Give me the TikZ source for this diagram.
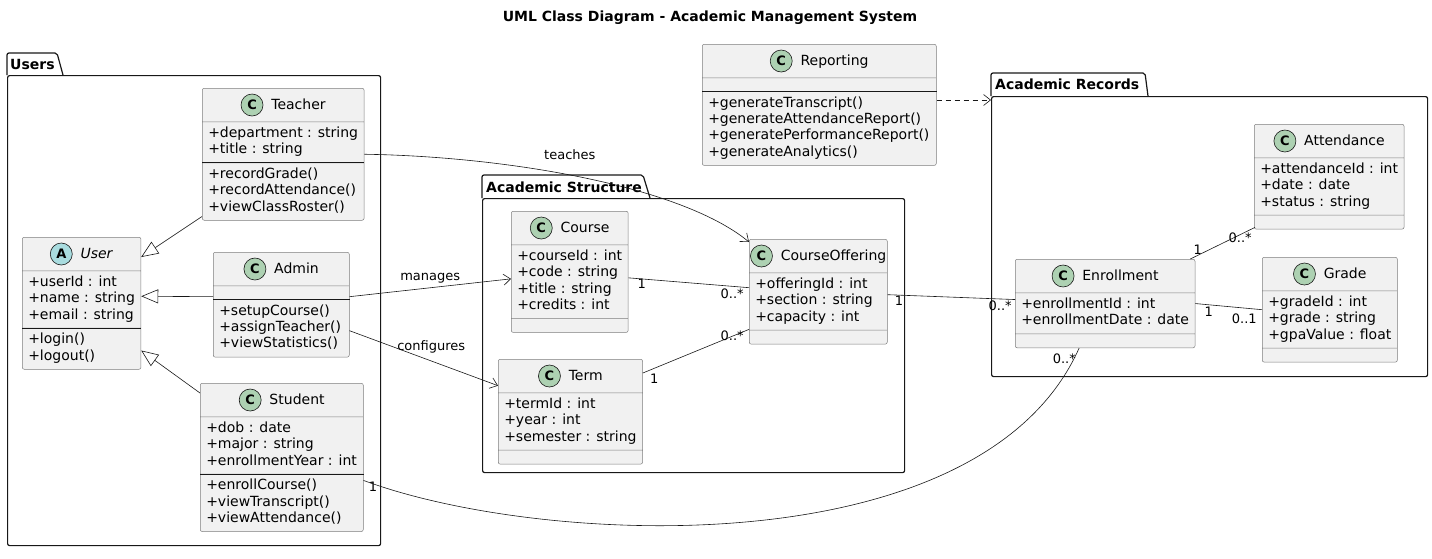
\documentclass[tikz,border=0pt]{standalone}
\usepackage{fontspec}
\setmainfont{DejaVu Sans}
\usepackage{xcolor}
\usepackage{tikz}
\usetikzlibrary{shapes.multipart,arrows.meta,positioning,calc}
\definecolor{classfill}{RGB}{241,241,241}
\definecolor{classline}{RGB}{125,125,125}
\definecolor{spotgreen}{RGB}{173,209,178}
\definecolor{spotblue}{RGB}{169,220,223}
\definecolor{inkblack}{RGB}{24,24,24}
\newcommand{\spot}[2]{\tikz[baseline=-4pt]\node[circle,anchor=center,draw=inkblack,line width=0.6pt,fill=#1,minimum size=22pt,inner sep=0pt,font=\fontsize{13}{13}\selectfont\bfseries]{#2};}
\newcommand{\classhead}[4]{\makebox[\dimexpr #1-12pt\relax][c]{\rule[-8.5pt]{0pt}{25pt}\spot{#2}{#3}\hspace{8pt}#4}}
\newcommand{\members}[1]{\begin{tabular}{@{}l@{}}#1\end{tabular}}

\begin{document}
\begin{tikzpicture}[x=1pt, y=-1pt]
    \tikzstyle{cls} = [rectangle split, rectangle split parts=3, draw=classline, line width=0.5pt, fill=classfill, rounded corners=2pt, inner xsep=6pt, inner ysep=4pt, rectangle split part align={center,left,left}, rectangle split empty part height=0pt, rectangle split empty part depth=0pt, font=\fontsize{14}{16.3}\selectfont, anchor=north west]
    \tikzstyle{pkg} = [draw=inkblack, line width=1.2pt, rounded corners=2pt, inner sep=0pt, anchor=north west]
    \tikzstyle{pkgname} = [font=\fontsize{14}{16}\selectfont\bfseries, anchor=west, inner sep=0pt]
    \tikzstyle{assoc} = [draw=inkblack, line width=0.6pt]
    \tikzstyle{arrow} = [assoc, -{Straight Barb[length=7pt,width=11pt]}]
    \tikzstyle{inherit} = [assoc, -{Triangle[open,length=17pt,width=14pt,fill=white]}]
    \tikzstyle{dep} = [arrow, dash pattern=on 5pt off 4pt]
    \tikzstyle{lbl} = [font=\fontsize{13}{15}\selectfont, inner sep=1pt]

    \useasboundingbox (0,0) rectangle (1432,558);

    % Title
    \node[font=\fontsize{14}{16}\selectfont\bfseries] (title) at (710,18) {UML Class Diagram - Academic Management System};

    % Packages
    \node[pkg, minimum width=373pt, minimum height=470pt] (users) at (7,75) {};
    \draw[pkg] (users.north west) -- ++(0,-22) -- ++(50,0) -- ++(6,22);
    \node[pkgname] (usersname) at (10,64) {Users};

    \node[pkg, minimum width=422pt, minimum height=274pt] (structure) at (482,198) {};
    \draw[pkg] (structure.north west) -- ++(0,-23) -- ++(161,0) -- ++(7,23);
    \node[pkgname] (structurename) at (486,187) {Academic Structure};

    \node[pkg, minimum width=436pt, minimum height=280pt] (records) at (991,96) {};
    \draw[pkg] (records.north west) -- ++(0,-23) -- ++(154,0) -- ++(3,23);
    \node[pkgname] (recordsname) at (995,84) {Academic Records};

    % Users
    \node[cls, minimum width=160pt] (teacher) at (202,88) {\classhead{160pt}{spotgreen}{C}{Teacher}
        \nodepart{two}\members{+department : string\\+title : string}
        \nodepart{three}\members{+recordGrade()\\+recordAttendance()\\+viewClassRoster()}};
    \node[cls, minimum width=117pt] (user) at (22,237) {\classhead{117pt}{spotblue}{A}{\textit{User}}
        \nodepart{two}\members{+userId : int\\+name : string\\+email : string}
        \nodepart{three}\members{+login()\\+logout()}};
    \node[cls, minimum width=136pt] (admin) at (213,252) {\classhead{136pt}{spotgreen}{C}{Admin}
        \nodepart{two}
        \nodepart{three}\members{+setupCourse()\\+assignTeacher()\\+viewStatistics()}};
    \node[cls, minimum width=163pt] (student) at (200,383) {\classhead{163pt}{spotgreen}{C}{Student}
        \nodepart{two}\members{+dob : date\\+major : string\\+enrollmentYear : int}
        \nodepart{three}\members{+enrollCourse()\\+viewTranscript()\\+viewAttendance()}};

    % Academic Structure
    \node[cls, minimum width=115pt] (course) at (511,211) {\classhead{115pt}{spotgreen}{C}{Course}
        \nodepart{two}\members{+courseId : int\\+code : string\\+title : string\\+credits : int}
        \nodepart{three}};
    \node[cls, minimum width=138pt] (offering) at (749,239) {\classhead{138pt}{spotgreen}{C}{CourseOffering}
        \nodepart{two}\members{+offeringId : int\\+section : string\\+capacity : int}
        \nodepart{three}};
    \node[cls, minimum width=142pt] (term) at (498,359) {\classhead{142pt}{spotgreen}{C}{Term}
        \nodepart{two}\members{+termId : int\\+year : int\\+semester : string}
        \nodepart{three}};

    % Reporting
    \node[cls, minimum width=234pt] (reporting) at (702,44) {\classhead{234pt}{spotgreen}{C}{Reporting}
        \nodepart{two}
        \nodepart{three}\members{+generateTranscript()\\+generateAttendanceReport()\\+generatePerformanceReport()\\+generateAnalytics()}};

    % Academic Records
    \node[cls, minimum width=149pt] (attendance) at (1254,124) {\classhead{149pt}{spotgreen}{C}{Attendance}
        \nodepart{two}\members{+attendanceId : int\\+date : date\\+status : string}
        \nodepart{three}};
    \node[cls, minimum width=178pt] (enrollment) at (1015,259) {\classhead{178pt}{spotgreen}{C}{Enrollment}
        \nodepart{two}\members{+enrollmentId : int\\+enrollmentDate : date}
        \nodepart{three}};
    \node[cls, minimum width=135pt] (grade) at (1262,257) {\classhead{135pt}{spotgreen}{C}{Grade}
        \nodepart{two}\members{+gradeId : int\\+grade : string\\+gpaValue : float}
        \nodepart{three}};

    % method separators
    \foreach \c in {teacher,user,admin,student,reporting}
        \draw[inkblack, line width=0.8pt] (\c.two split west) -- (\c.two split east);

    % Inheritance
    \draw[inherit] ([yshift=4pt]teacher.south west) -- ([yshift=-20pt]user.north east);
    \draw[inherit] ([yshift=8pt]admin.west) -- ([yshift=7pt]user.east);
    \draw[inherit] ([yshift=-10pt]student.north west) -- ([yshift=19pt]user.south east);

    % Arrows
    \draw[arrow] (teacher.east) .. controls +(138,2) and +(-69,-57) .. node[lbl, pos=0.47, above=14pt] {teaches} ([yshift=-3pt]offering.north west);
    \draw[arrow] ([yshift=8pt]admin.east) -- node[lbl, pos=0.5, above=3pt] {manages} ([yshift=-7pt]course.west);
    \draw[arrow] ([yshift=-26pt]admin.east) -- node[lbl, pos=0.55, above=6pt] {configures} ([yshift=26pt]term.west);

    % Associations
    \draw[assoc] ([yshift=-6pt]course.east) -- node[lbl, pos=0, anchor=north west, xshift=8pt] {1} node[lbl, pos=1, anchor=north east, xshift=-4pt] {0..*} ([yshift=4pt]offering.west);
    \draw[assoc] ([yshift=-14pt]term.north east) -- node[lbl, pos=0, anchor=north west, xshift=6pt] {1} node[lbl, pos=1, anchor=north east, xshift=-4pt] {0..*} ([yshift=15pt]offering.south west);
    \draw[assoc] ([yshift=-3pt]offering.east) -- node[lbl, pos=0, anchor=north west, xshift=6pt] {1} node[lbl, pos=1, anchor=north east, xshift=-2pt] {0..*} ([yshift=4pt]enrollment.west);
    \draw[assoc] ([xshift=-5pt]enrollment.north east) -- node[lbl, pos=0, anchor=south west, xshift=2pt, yshift=3pt] {1} node[lbl, pos=1, anchor=north east, xshift=-2pt, yshift=-4pt] {0..*} ([xshift=1pt, yshift=2pt]attendance.south west);
    \draw[assoc] (enrollment.east) -- node[lbl, pos=0, anchor=north west, xshift=8pt, yshift=-2pt] {1} node[lbl, pos=1, anchor=north east, xshift=-4pt, yshift=-3pt] {0..1} (grade.west);
    \draw[assoc] ([yshift=-23pt]student.east) .. controls +(177,66) and +(-98,220) .. node[lbl, pos=0, anchor=north west, xshift=4pt] {1} node[lbl, pos=1, anchor=north east, xshift=-2pt, yshift=-4pt] {0..*} ([xshift=-26pt]enrollment.south);

    % Dependency
    \coordinate (recin) at ([yshift=-4pt]records.north west);
    \draw[dep] (reporting.east |- recin) -- (recin);
\end{tikzpicture}
\end{document}
